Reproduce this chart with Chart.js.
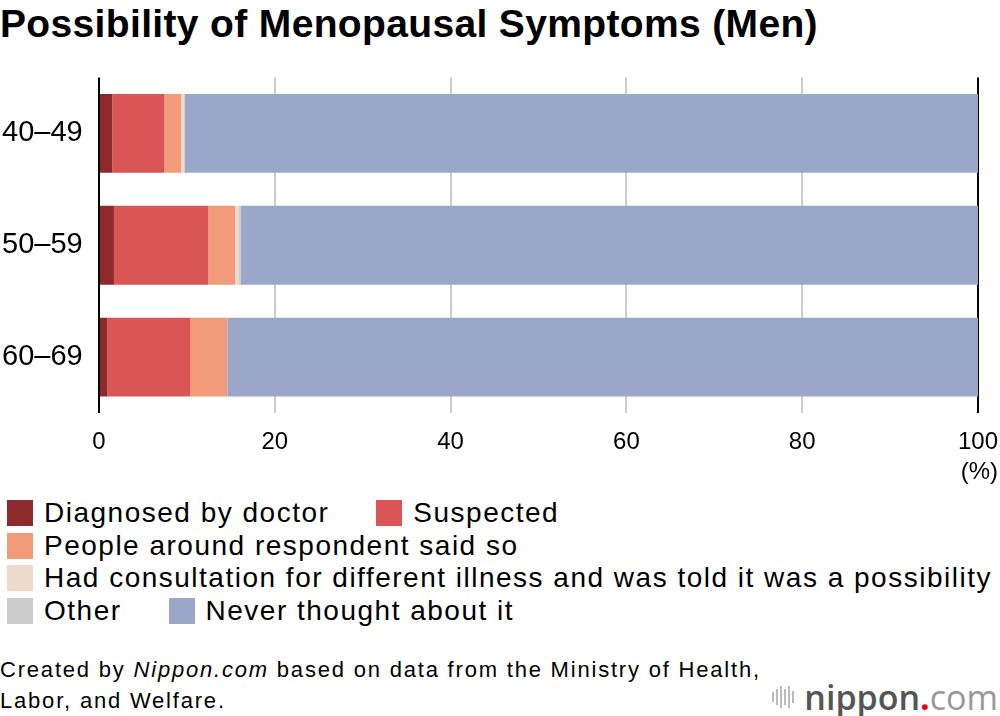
<!DOCTYPE html>
<html>
<head>
<meta charset="utf-8">
<script src="https://cdn.jsdelivr.net/npm/chart.js@4"></script>
<style>
  body { margin: 0; background: #fff; font-family: "Liberation Sans", Arial, sans-serif; color: #000; }
  #wrap { position: relative; width: 1000px; height: 716px; overflow: hidden; }
  #title { position: absolute; left: 0; top: 2px; font-size: 39px; font-weight: bold; letter-spacing: 0.35px; }
  #box { position: absolute; left: 0; top: 57px; width: 1000px; height: 420px; }
  #unit { position: absolute; right: 2px; top: 457px; font-size: 24px; }
  #legend { position: absolute; left: 7px; top: 497px; width: 995px; }
  .row { display: flex; height: 32.5px; align-items: center; }
  .item { display: flex; align-items: center; margin-right: 47px; font-size: 28px; letter-spacing: 1.5px; white-space: nowrap; }
  .sw { width: 26px; height: 26px; margin-right: 11px; flex: none; }
  #note { position: absolute; left: 0; top: 654px; font-size: 22px; line-height: 31px; letter-spacing: 1.8px; }
  #logo { position: absolute; right: 2px; top: 674px; font-family: "Open Sans", sans-serif; font-size: 34px; color: #666; display: flex; align-items: center; }
  #logo .bars { display: flex; align-items: center; margin-right: 8px; }
  #logo .bars i { display: block; width: 2px; background: #bbb; margin-right: 2px; }
</style>
</head>
<body>
<div id="wrap">
  <div id="title">Possibility of Menopausal Symptoms (Men)</div>
  <div id="box"><canvas id="chart"></canvas></div>
  <div id="unit">(%)</div>
  <div id="legend"></div>
  <div id="note">Created by <i>Nippon.com</i> based on data from the Ministry of Health,<br>Labor, and Welfare.</div>
  <div id="logo">
    <span class="bars"><i style="height:10px"></i><i style="height:16px"></i><i style="height:22px"></i><i style="height:16px"></i><i style="height:22px"></i><i style="height:12px"></i></span>
    <span style="font-weight:600;color:#555">nippon</span><span style="color:#e60012;font-weight:bold">.</span><span style="color:#999">com</span>
  </div>
</div>
<script>
const ageGroups = ['40–49', '50–59', '60–69'];

const diagnosed   = [1.5, 1.7, 0.95];
const suspected   = [5.95, 10.75, 9.45];
const aroundSaid  = [1.9, 3.05, 4.2];
const consulted   = [0.25, 0.35, 0];
const other       = [0.15, 0.3, 0];
const neverThought = [90.25, 83.85, 85.4];

const xTicks = [0, 20, 40, 60, 80, 100];

const seriesNames = [
  'Diagnosed by doctor',
  'Suspected',
  'People around respondent said so',
  'Had consultation for different illness and was told it was a possibility',
  'Other',
  'Never thought about it'
];
const seriesData = [diagnosed, suspected, aroundSaid, consulted, other, neverThought];
const seriesColors = ['#8c2a2c', '#da5656', '#f29b7a', '#efd9ca', '#cccccc', '#9ba7c9'];

// legend rows as in the original layout
const legendRows = [[0, 1], [2], [3], [4, 5]];
const legend = document.getElementById('legend');
legendRows.forEach(row => {
  const r = document.createElement('div');
  r.className = 'row';
  row.forEach(i => {
    const it = document.createElement('div');
    it.className = 'item';
    it.innerHTML = '<span class="sw" style="background:' + seriesColors[i] + '"></span>' + seriesNames[i];
    r.appendChild(it);
  });
  legend.appendChild(r);
});

new Chart(document.getElementById('chart').getContext('2d'), {
  type: 'bar',
  data: {
    labels: ageGroups,
    datasets: seriesData.map((d, i) => ({
      label: seriesNames[i],
      data: d,
      backgroundColor: seriesColors[i],
      borderWidth: 0,
      barPercentage: 0.705,
      categoryPercentage: 1
    }))
  },
  options: {
    indexAxis: 'y',
    responsive: true,
    maintainAspectRatio: false,
    animation: false,
    layout: { padding: { top: 20, right: 22, left: 2, bottom: 0 } },
    plugins: {
      legend: { display: false },
      tooltip: { enabled: false }
    },
    scales: {
      x: {
        stacked: true,
        min: 0,
        max: 100,
        afterBuildTicks: scale => { scale.ticks = xTicks.map(v => ({ value: v })); },
        afterFit: scale => {
          scale.height = 64;
          scale.paddingRight = 0;
          scale.paddingLeft = 0;
        },
        border: { display: false },
        grid: {
          drawTicks: false,
          lineWidth: 2,
          color: ctx => (ctx.tick && (ctx.tick.value === 0 || ctx.tick.value === 100)) ? '#000' : '#cccccc'
        },
        ticks: {
          padding: 15,
          color: '#000',
          font: { family: 'Liberation Sans', size: 24 }
        }
      },
      y: {
        stacked: true,
        afterFit: scale => { scale.width = 97; },
        border: { display: false },
        grid: { display: false },
        ticks: {
          crossAlign: 'far',
          color: '#000',
          font: { family: 'Liberation Sans', size: 29 }
        }
      }
    }
  }
});
</script>
</body>
</html>
